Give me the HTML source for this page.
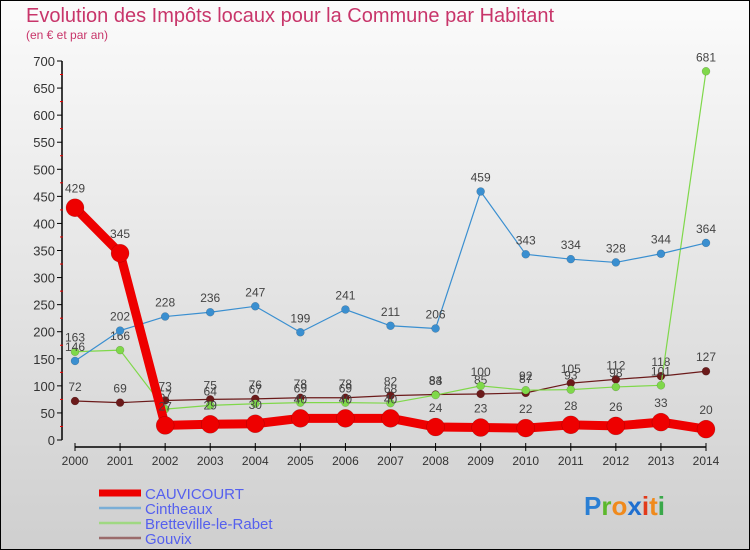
<!DOCTYPE html>
<html><head><meta charset="utf-8"><style>
body{margin:0;width:750px;height:550px;overflow:hidden;font-family:"Liberation Sans",sans-serif}
</style></head><body>
<svg id="chart" width="750" height="550" xmlns="http://www.w3.org/2000/svg" style="display:block">
<defs><linearGradient id="bg" x1="0" y1="0" x2="0" y2="1"><stop offset="0" stop-color="#fbfbfb"/><stop offset="1" stop-color="#cfcfcf"/></linearGradient></defs>
<rect x="0" y="0" width="750" height="550" fill="url(#bg)" stroke="#000" stroke-width="2"/>
<text x="26" y="22" font-size="20" fill="#c8356a">Evolution des Impôts locaux pour la Commune par Habitant</text>
<text x="26" y="39" font-size="12" fill="#c8356a">(en € et par an)</text>
<g id="axes"></g><g id="series"></g><g id="legend"></g>
<g font-size="26" font-weight="bold" font-family="'Liberation Sans',sans-serif">
<text x="584" y="515"><tspan fill="#2a7fd4">P</tspan><tspan fill="#5cb82c">r</tspan><tspan fill="#f08a1c">o</tspan><tspan fill="#1f6fd0">x</tspan><tspan fill="#e23a1a">i</tspan><tspan fill="#f08a1c">t</tspan><tspan fill="#3aa84a">i</tspan></text>
</g>
</svg>
<script>
const years=[2000,2001,2002,2003,2004,2005,2006,2007,2008,2009,2010,2011,2012,2013,2014];
const yTicks=[0,50,100,150,200,250,300,350,400,450,500,550,600,650,700];
const cauvicourt=[429,345,27,29,30,40,40,40,24,23,22,28,26,33,20];
const cintheaux=[146,202,228,236,247,199,241,211,206,459,343,334,328,344,364];
const bretteville=[163,166,57,64,67,69,69,68,83,100,92,93,98,101,681];
const gouvix=[72,69,73,75,76,78,78,82,84,85,87,105,112,118,127];
const seriesNames=["CAUVICOURT","Cintheaux","Bretteville-le-Rabet","Gouvix"];
const NS="http://www.w3.org/2000/svg";
function X(i){return 75+i*(706-75)/(years.length-1);}
function Y(v){return 440-v*(440-61)/700;}
function mk(t,a,p){const e=document.createElementNS(NS,t);for(const k in a)e.setAttribute(k,a[k]);p.appendChild(e);return e;}
const ax=document.getElementById('axes');
const yAxis=mk('line',{x1:62,y1:Y(700),x2:62,y2:Y(0),stroke:'#000','stroke-width':1.5},ax);


yTicks.forEach(v=>{
 mk('line',{x1:57,y1:Y(v),x2:62,y2:Y(v),stroke:'#000'},ax);
 if(v<700)mk('line',{x1:60,y1:Y(v+25),x2:63,y2:Y(v+25),stroke:'#e00'},ax);
 const t=mk('text',{x:55,y:Y(v)+5,'text-anchor':'end','font-size':13,fill:'#333'},ax);t.textContent=v;
 
 
});
const xAxis=mk('line',{x1:X(0),y1:447,x2:X(14),y2:447,stroke:'#000','stroke-width':1.5},ax);


years.forEach((y,i)=>{
 mk('line',{x1:X(i),y1:443,x2:X(i),y2:451,stroke:'#000'},ax);
 const t=mk('text',{x:X(i),y:465,'text-anchor':'middle','font-size':12,fill:'#333'},ax);t.textContent=y;
 
 
});
const sg=document.getElementById('series');
const defs=[
 {d:gouvix,c:'#6b1a1a',w:1.2,r:4,n:'gouvix'},
 {d:bretteville,c:'#7fd84a',w:1.2,r:4,n:'bretteville'},
 {d:cintheaux,c:'#3a8fd0',w:1.2,r:4,n:'cintheaux'},
 {d:cauvicourt,c:'#ee0000',w:9,r:9,n:'cauvicourt'}];
defs.forEach(s=>{
 const g=mk('g',{},sg);
 
 
 const pts=s.d.map((v,i)=>X(i)+','+Y(v)).join(' ');
 mk('polyline',{points:pts,fill:'none',stroke:s.c,'stroke-width':s.w,'stroke-linejoin':'round'},g);
 s.d.forEach((v,i)=>{
  const c=mk('circle',{cx:X(i),cy:Y(v),r:s.r,fill:s.c,stroke:'rgba(0,0,0,0.25)','stroke-width':0.5},g);
  
  
  const t=mk('text',{x:X(i),y:Y(v)-(s.r+6),'text-anchor':'middle','font-size':12,fill:'#444'},g);t.textContent=v;
  
  
 });
});
const lg=document.getElementById('legend');
const lc=['#ee0000','#7aaed6','#9fd882','#9a6b6b'],lw=[7,2.5,2.5,2.5];
seriesNames.forEach((n,i)=>{
 const y=493+i*15;
 const g=mk('g',{},lg);
 
 
 mk('line',{x1:99,y1:y,x2:141,y2:y,stroke:lc[i],'stroke-width':lw[i]},g);
 const t=mk('text',{x:145,y:y+6,'font-size':15,fill:'#5560ee'},g);t.textContent=n;
});
</script>
</body></html>
